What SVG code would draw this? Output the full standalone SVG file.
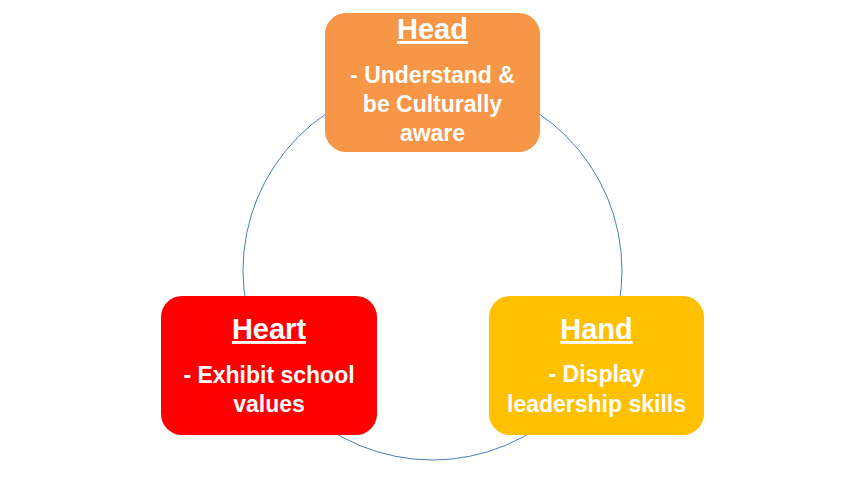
<svg xmlns="http://www.w3.org/2000/svg" width="864" height="486" viewBox="0 0 864 486">
<style>
.title{font-family:"Liberation Sans",Arial,sans-serif;font-weight:bold;font-size:29px;fill:#fff;text-anchor:middle;text-decoration:underline}
.body{font-family:"Liberation Sans",Arial,sans-serif;font-weight:bold;font-size:23px;fill:#fff;text-anchor:middle}
</style>
<rect width="864" height="486" fill="#fff"/>
<g id="connectors">
<circle cx="432.5" cy="270.5" r="189.5" fill="none" stroke="#4A7EBB" stroke-width="1"/>
</g>
<g id="head">
<rect x="325" y="13" width="215" height="139" rx="21" fill="#F79646"/>
<text class="title" x="432.5" y="39">Head</text>
<text class="body" x="432.5" y="83">- Understand &amp;</text>
<text class="body" x="432.5" y="112">be Culturally</text>
<text class="body" x="432.5" y="141">aware</text>
</g>
<g id="heart">
<rect x="161" y="296" width="216" height="139" rx="21" fill="#FF0000"/>
<text class="title" x="269" y="339">Heart</text>
<text class="body" x="269" y="382.5">- Exhibit school</text>
<text class="body" x="269" y="411.5">values</text>
</g>
<g id="hand">
<rect x="489" y="296" width="215" height="139" rx="21" fill="#FFC000"/>
<text class="title" x="596.5" y="339">Hand</text>
<text class="body" x="596.5" y="382">- Display</text>
<text class="body" x="596.5" y="411.5">leadership skills</text>
</g>
</svg>
